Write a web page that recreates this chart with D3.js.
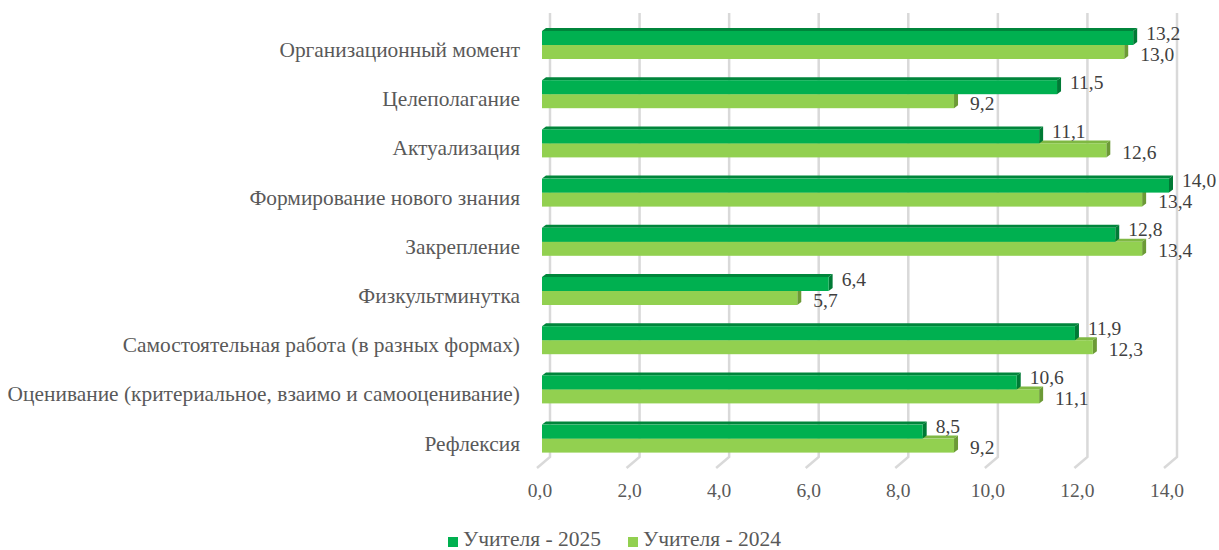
<!DOCTYPE html>
<html><head><meta charset="utf-8">
<script src="https://cdn.jsdelivr.net/npm/d3@7"></script>
<style>body{margin:0;background:#fff;}svg{display:block;} svg text{font-family:"Liberation Serif","Times New Roman",Times,serif;}</style>
</head><body>
<svg id="c" width="1219" height="550"></svg>
<script>
const categories = ["Организационный момент","Целеполагание","Актуализация","Формирование нового знания","Закрепление","Физкультминутка","Самостоятельная работа (в разных формах)","Оценивание (критериальное, взаимо и самооценивание)","Рефлексия"];
const values2025 = [13.2, 11.5, 11.1, 14.0, 12.8, 6.4, 11.9, 10.6, 8.5];
const values2024 = [13.0, 9.2, 12.6, 13.4, 13.4, 5.7, 12.3, 11.1, 9.2];
const ticks = [0,2,4,6,8,10,12,14];
const seriesNames = ["Учителя - 2025","Учителя - 2024"];

const svg = d3.select("#c");
const x = d3.scaleLinear().domain([0,14]).range([542,1169]);
const y = d3.scaleBand().domain(categories).range([20.4,463.2]);
const fmt = v => d3.format(".1f")(v).replace(".", ",");
const bh = 14, dx = 4, dy = 3;

// gridlines
const g = svg.append("g");
ticks.forEach(t => {
  const xv = x(t);
  g.append("path").attr("d", `M${xv+8},13 L${xv+8},457 L${xv-5},468`)
    .attr("fill","none").attr("stroke","#d9d9d9").attr("stroke-width",2.5);
  g.append("text").attr("x", xv-2).attr("y", 497).attr("text-anchor","middle")
    .attr("font-size",19.5).attr("fill","#595959").text(fmt(t));
});

// category labels
categories.forEach(c => {
  svg.append("text").attr("x",520).attr("y", y(c)+y.bandwidth()/2+12)
    .attr("text-anchor","end").attr("font-size",21.4)
    .attr("fill","#595959").text(c);
});

function bar(x1, yt, cols){
  const x0 = x(0);
  const b = svg.append("g");
  b.append("path").attr("d",`M${x0},${yt} L${x0+dx},${yt-dy} L${x1+dx},${yt-dy} L${x1},${yt} Z`).attr("fill",cols[1]);
  b.append("path").attr("d",`M${x1},${yt} L${x1+dx},${yt-dy} L${x1+dx},${yt+bh-dy} L${x1},${yt+bh} Z`).attr("fill",cols[2]);
  b.append("rect").attr("x",x0).attr("y",yt).attr("width",x1-x0).attr("height",bh).attr("fill",cols[0]);
}
const c25 = ["#00b050","#00853b","#007a35"];
const c24 = ["#92d050","#7fb843","#6c9a36"];

categories.forEach((c,i) => {
  const mid = y(c)+y.bandwidth()/2;
  bar(x(values2024[i]), mid, c24);
  bar(x(values2025[i]), mid-bh, c25);
});
categories.forEach((c,i) => {
  const mid = y(c)+y.bandwidth()/2;
  svg.append("text").attr("x", x(values2025[i])+dx+9).attr("y", mid-5.5)
    .attr("font-size",19.5).attr("fill","#404040").text(fmt(values2025[i]));
  svg.append("text").attr("x", x(values2024[i])+dx+12).attr("y", mid+15.5)
    .attr("font-size",19.5).attr("fill","#404040").text(fmt(values2024[i]));
});

// legend
const lg = svg.append("g");
[[448,"#00b050",seriesNames[0]],[628,"#92d050",seriesNames[1]]].forEach(([lx,col,t]) => {
  lg.append("rect").attr("x",lx).attr("y",537).attr("width",10).attr("height",10).attr("fill",col);
  lg.append("text").attr("x",lx+15).attr("y",546).attr("font-size",21.5)
    .attr("fill","#595959").text(t);
});
</script>
</body></html>
